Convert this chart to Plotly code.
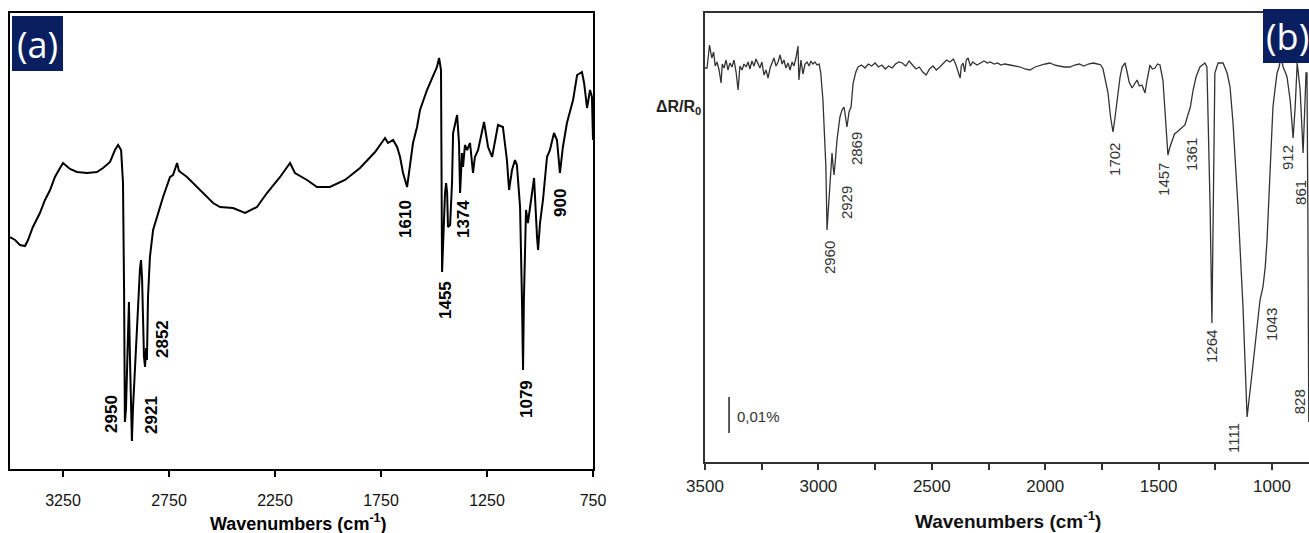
import plotly.graph_objects as go

W, H = 1309, 533

# ---------------- Panel (a) data ----------------
wn_a = [3500, 3476, 3453, 3429, 3415, 3392, 3359, 3335, 3311, 3288, 3264, 3250, 3217, 3184, 3137,
        3090, 3061, 3028, 3005, 2990, 2976, 2967, 2962, 2958, 2953, 2948, 2939, 2934, 2925, 2920,
        2910, 2896, 2887, 2882, 2877, 2868, 2863, 2858, 2854, 2849, 2840, 2825, 2807, 2778, 2745,
        2731, 2712, 2703, 2665, 2604, 2542, 2509, 2448, 2391, 2335, 2288, 2226, 2179, 2156, 2099,
        2052, 1991, 1920, 1849, 1778, 1731, 1717, 1693, 1674, 1660, 1646, 1627, 1599, 1580, 1566,
        1533, 1505, 1486, 1476, 1467, 1462, 1457, 1448, 1443, 1438, 1434, 1424, 1415, 1410, 1391,
        1382, 1377, 1368, 1363, 1354, 1344, 1330, 1316, 1307, 1292, 1264, 1245, 1226, 1198, 1175,
        1156, 1146, 1132, 1118, 1109, 1094, 1085, 1080, 1076, 1066, 1057, 1042, 1028, 1014, 1009,
        1000, 986, 967, 953, 934, 920, 906, 892, 873, 844, 825, 802, 792, 778, 764, 755, 750]
val_a = [232, 229, 224, 223, 229, 242, 256, 269, 279, 292, 301, 306, 300, 297, 296,
         297, 301, 307, 319, 324, 319, 286, 180, 47, 60, 110, 167, 110, 28, 60,
         106, 172, 200, 209, 190, 112, 102, 121, 109, 172, 212, 239, 252, 272, 292,
         294, 306, 298, 292, 279, 266, 262, 261, 256, 262, 276, 292, 306, 296, 289,
         282, 282, 289, 301, 317, 331, 326, 329, 322, 312, 296, 282, 326, 342, 359,
         379, 392, 402, 411, 399, 197, 227, 276, 286, 276, 242, 244, 286, 336, 354,
         326, 276, 316, 302, 324, 319, 326, 296, 312, 319, 347, 322, 312, 344, 342,
         309, 279, 299, 309, 304, 262, 169, 99, 169, 259, 246, 272, 291, 232, 219,
         246, 269, 312, 319, 336, 329, 296, 322, 346, 369, 394, 397, 386, 361, 379, 372, 329]
ticks_a = [3250, 2750, 2250, 1750, 1250, 750]
peak_labels_a = ["2950", "2921", "2852", "1610", "1455", "1374", "1079", "900"]
peak_label_x_a = [3024, 2835, 2783, 1637, 1448, 1363, 1066, 906]
peak_label_y_a = [55, 54, 130, 250, 169, 250, 70, 266]

# ---------------- Panel (b) data ----------------
wn_b = [3500, 3491, 3480, 3470, 3462, 3455, 3447, 3438, 3429, 3424, 3416, 3407, 3399, 3390, 3381,
        3372, 3363, 3354, 3346, 3337, 3328, 3319, 3310, 3302, 3293, 3284, 3275, 3266, 3258, 3249,
        3240, 3231, 3222, 3213, 3205, 3196, 3187, 3178, 3169, 3160, 3152, 3143, 3134, 3125, 3116,
        3108, 3099, 3090, 3086, 3081, 3077, 3068, 3059, 3050, 3041, 3033, 3024, 3015, 3006, 2997,
        2990, 2980, 2972, 2967, 2962, 2957, 2953, 2945, 2940, 2935, 2931, 2924, 2918, 2905, 2896,
        2887, 2880, 2874, 2865, 2856, 2847, 2835, 2825, 2810, 2795, 2780, 2765, 2750, 2735, 2720,
        2705, 2690, 2675, 2660, 2645, 2630, 2615, 2600, 2585, 2570, 2555, 2540, 2525, 2510, 2495,
        2480, 2465, 2450, 2435, 2420, 2405, 2395, 2385, 2375, 2370, 2362, 2355, 2348, 2340, 2330,
        2320, 2301, 2285, 2270, 2255, 2243, 2225, 2210, 2195, 2180, 2155, 2130, 2110, 2090, 2067,
        2045, 2020, 2000, 1979, 1960, 1940, 1915, 1891, 1870, 1850, 1830, 1810, 1789, 1770, 1755,
        1745, 1736, 1723, 1712, 1701, 1692, 1684, 1670, 1661, 1648, 1639, 1630, 1617, 1605, 1595,
        1585, 1573, 1565, 1560, 1551, 1538, 1528, 1516, 1505, 1494, 1481, 1468, 1459, 1450, 1441,
        1430, 1419, 1400, 1384, 1371, 1360, 1348, 1335, 1318, 1296, 1287, 1273, 1265, 1260, 1252,
        1238, 1216, 1198, 1185, 1172, 1150, 1128, 1110, 1088, 1066, 1053, 1040, 1030, 1022, 1009,
        996, 978, 969, 960, 951, 942, 934, 920, 907, 898, 889, 876, 863, 850, 846, 842, 838]
val_b = [394, 394, 417, 404, 410, 396, 400, 392, 379, 398, 394, 402, 392, 399, 395,
         402, 390, 372, 396, 392, 398, 395, 400, 393, 401, 396, 403, 398, 394, 400,
         387, 392, 384, 394, 398, 404, 396, 400, 407, 398, 402, 394, 399, 392, 400,
         396, 404, 416, 382, 392, 402, 388, 398, 400, 396, 401, 398, 400, 397, 398,
         390, 362, 320, 295, 232, 250, 262, 300, 309, 295, 287, 305, 322, 345, 352,
         355, 345, 335, 350, 355, 379, 390, 395, 397, 394, 398, 396, 399, 395, 397,
         393, 396, 394, 398, 400, 399, 396, 401, 397, 393, 395, 390, 387, 393, 396,
         392, 395, 398, 402, 400, 403, 398, 392, 384, 396, 399, 390, 402, 404, 396,
         400, 397, 399, 401, 399, 400, 398, 399, 397, 398, 397, 396, 395, 393, 392,
         395, 397, 398, 399, 397, 396, 395, 395, 397, 398, 396, 398, 399, 398, 397,
         393, 384, 369, 345, 330, 345, 362, 385, 395, 399, 390, 380, 374, 378, 382,
         376, 377, 372, 369, 382, 397, 393, 394, 398, 397, 382, 342, 307, 315, 322,
         328, 330, 334, 337, 347, 355, 372, 385, 395, 399, 395, 255, 139, 255, 389,
         399, 399, 389, 375, 339, 255, 155, 45, 89, 139, 162, 175, 195, 222, 289,
         355, 389, 395, 405, 395, 390, 385, 362, 324, 355, 399, 372, 309, 389, 389, 250, 40]
ticks_b = [3500, 3000, 2500, 2000, 1500, 1000]
minor_ticks_b = [3250, 2750, 2250, 1750, 1250]
peak_labels_b = ["2960", "2929", "2869", "1702", "1457", "1361", "1264", "1111", "1043", "912", "861", "828"]
peak_label_x_b = [2953, 2878, 2834, 1697, 1481, 1357, 1269, 1172, 1004, 934, 877, 880]
peak_label_y_b = [204, 259, 313, 303, 283, 307, 115, 24, 137, 304, 270, 60]
scale_bar_wn = [3394, 3394]
scale_bar_y = [29, 65]
scale_text = "0,01%"


def px(x):
    return x / W


def py(y):
    return 1 - y / H


NAVY = "#0a1f5f"
fig = go.Figure()
fig.add_trace(go.Scatter(x=wn_a, y=val_a, mode="lines", line=dict(color="black", width=2),
                         xaxis="x", yaxis="y", hoverinfo="skip"))
fig.add_trace(go.Scatter(x=wn_b, y=val_b, mode="lines", line=dict(color="#333333", width=1.3),
                         xaxis="x2", yaxis="y2", hoverinfo="skip"))
fig.add_trace(go.Scatter(x=scale_bar_wn, y=scale_bar_y, mode="lines",
                         line=dict(color="#333333", width=1.6), xaxis="x2", yaxis="y2", hoverinfo="skip"))

narrow = "Liberation Sans Narrow, Arial Narrow, Liberation Sans, Arial, sans-serif"
arial = "Liberation Sans, Arial, sans-serif"

fig.update_layout(
    width=W, height=H, margin=dict(l=0, r=0, t=0, b=0, pad=0, autoexpand=False),
    paper_bgcolor="white", plot_bgcolor="white", showlegend=False,
    xaxis=dict(domain=[px(10), px(593)], range=[3500, 750], anchor="y",
               showline=True, linecolor="black", linewidth=2, mirror=True,
               ticks="outside", ticklen=6, tickwidth=1.5, tickcolor="black",
               tickmode="array", tickvals=ticks_a, ticktext=[str(t) for t in ticks_a],
               tickfont=dict(family=narrow, size=16, color="#111111"),
               ticklabelstandoff=10, showgrid=False, zeroline=False, automargin=False),
    yaxis=dict(domain=[py(469), py(13)], range=[0, 456], anchor="x",
               showline=True, linecolor="black", linewidth=2, mirror=True,
               ticks="", showticklabels=False, showgrid=False, zeroline=False, automargin=False),
    xaxis2=dict(domain=[px(705), 1.0], range=[3500, 837], anchor="y2",
                showline=True, linecolor="#333333", linewidth=1.5, mirror=True,
                ticks="outside", ticklen=6, tickwidth=1.5, tickcolor="#333333",
                tickmode="array", tickvals=ticks_b, ticktext=[str(t) for t in ticks_b],
                minor=dict(tickvals=minor_ticks_b, ticks="outside", ticklen=6,
                           tickwidth=1.5, tickcolor="#333333"),
                tickfont=dict(family=arial, size=17, color="#222222"),
                ticklabelstandoff=2, showgrid=False, zeroline=False, automargin=False),
    yaxis2=dict(domain=[py(462), py(13)], range=[0, 449], anchor="x2",
                showline=True, linecolor="#333333", linewidth=1.5, mirror=False,
                ticks="", showticklabels=False, showgrid=False, zeroline=False, automargin=False),
)

ann = []
for t, x, y in zip(peak_labels_a, peak_label_x_a, peak_label_y_a):
    ann.append(dict(x=x, y=y, xref="x", yref="y", text=t, showarrow=False, textangle=-90,
                    xanchor="center", yanchor="middle",
                    font=dict(family=arial, size=17, color="black", weight="bold")))
for t, x, y in zip(peak_labels_b, peak_label_x_b, peak_label_y_b):
    ann.append(dict(x=x, y=y, xref="x2", yref="y2", text=t, showarrow=False, textangle=-90,
                    xanchor="center", yanchor="middle",
                    font=dict(family=arial, size=15, color="#333333")))
ann.append(dict(x=3368, y=46, xref="x2", yref="y2", text=scale_text, showarrow=False,
                xanchor="left", yanchor="middle", font=dict(family=arial, size=15, color="#333333")))
ann.append(dict(x=px(298), y=py(522), xref="paper", yref="paper",
                text="Wavenumbers (cm<sup>-1</sup>)", showarrow=False,
                xanchor="center", yanchor="middle",
                font=dict(family=arial, size=18, color="black", weight="bold")))
ann.append(dict(x=px(1008), y=py(520), xref="paper", yref="paper",
                text="Wavenumbers (cm<sup>-1</sup>)", showarrow=False,
                xanchor="center", yanchor="middle",
                font=dict(family=arial, size=19, color="#111111", weight="bold")))
ann.append(dict(x=px(703), y=py(107), xref="paper", yref="paper",
                text="ΔR/R<sub>0</sub>", showarrow=False,
                xanchor="right", yanchor="middle",
                font=dict(family=arial, size=16, color="#222222", weight="bold")))
ann.append(dict(x=px(37.5), y=py(44), xref="paper", yref="paper", text="(a)", showarrow=False,
                xanchor="center", yanchor="middle",
                font=dict(family="Open Sans, Noto Sans, sans-serif", size=36, color="white")))
ann.append(dict(x=px(1264), y=py(36), xref="paper", yref="paper", text="(b)", showarrow=False,
                xanchor="left", yanchor="middle",
                font=dict(family="Open Sans, Noto Sans, sans-serif", size=36, color="white")))
fig.update_layout(annotations=ann)

fig.update_layout(shapes=[
    dict(type="rect", xref="paper", yref="paper", x0=px(12), x1=px(63), y0=py(71), y1=py(16),
         fillcolor=NAVY, line=dict(width=0), layer="above"),
    dict(type="rect", xref="paper", yref="paper", x0=px(1263), x1=px(1309), y0=py(63), y1=py(9),
         fillcolor=NAVY, line=dict(width=0), layer="above"),
])

fig.write_html("out.html")
